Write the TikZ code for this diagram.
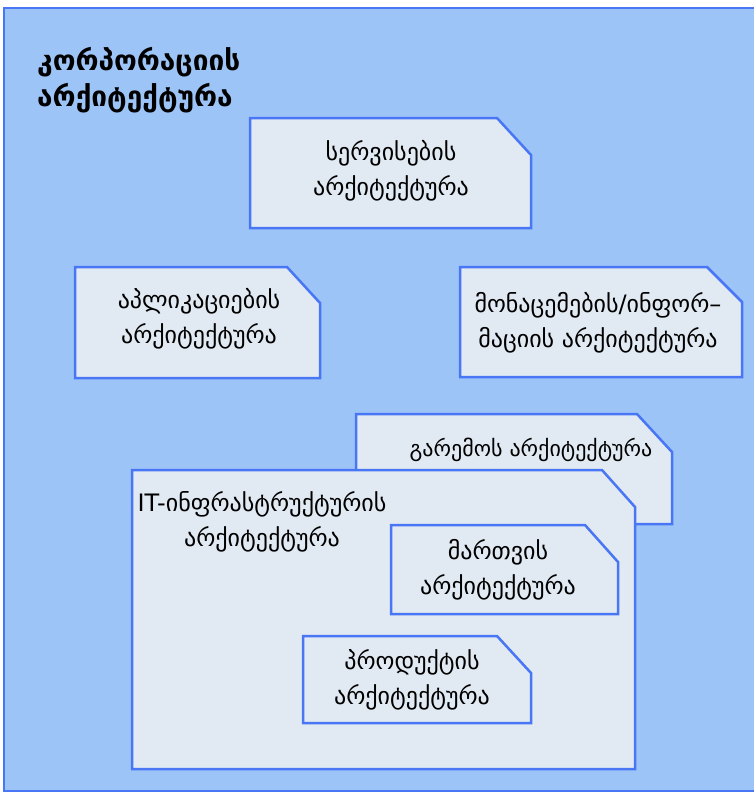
\documentclass[tikz,border=0pt]{standalone}
\usepackage{fontspec}
\setmainfont{DejaVu Sans}

\definecolor{outerblue}{RGB}{157,196,247}
\definecolor{boxfill}{RGB}{225,233,242}
\definecolor{edgeblue}{RGB}{72,118,245}

\tikzset{
    archbox/.style={draw=edgeblue, line width=2.5pt, fill=boxfill, line join=miter},
    archtext/.style={inner sep=0pt, align=center, font=\fontsize{24}{35}\selectfont}
}

\begin{document}
\begin{tikzpicture}[x=1pt, y=-1pt]

    \clip (0,0) rectangle (754,795);

    % Outer frame
    \draw[edgeblue, line width=2.5pt, fill=outerblue] (4,8) rectangle (760,791);
    \node[anchor=west, align=left, inner sep=0pt,
        font=\bfseries\fontsize{28}{36}\selectfont] (corp) at (37,80)
        {კორპორაციის\\არქიტექტურა};

    % Services
    \filldraw[archbox] (250,228) -- (250,118) -- (497,118) -- (531,155) -- (531,228) -- cycle;
    \node[archtext] (serv) at (391,170.5) {სერვისების\\არქიტექტურა};

    % Applications
    \filldraw[archbox] (75,378) -- (75,267) -- (287,267) -- (320,303) -- (320,378) -- cycle;
    \node[archtext] (app) at (199,318.5) {აპლიკაციების\\არქიტექტურა};

    % Data / information
    \filldraw[archbox] (460,377) -- (460,267) -- (707,267) -- (742,302) -- (742,377) -- cycle;
    \node[archtext] (data) at (598,322.5) {მონაცემების/ინფორ–\\მაციის არქიტექტურა};

    % Environment (behind the IT box)
    \filldraw[archbox] (356,524) -- (356,414) -- (637,414) -- (672,452) -- (672,524) -- cycle;
    \node[archtext, font=\fontsize{22}{35}\selectfont] (env) at (531,450) {გარემოს არქიტექტურა};

    % IT infrastructure
    \filldraw[archbox] (132,769) -- (132,470) -- (602,470) -- (635,507) -- (635,769) -- cycle;
    \node[archtext] (itinf) at (262,521.5) {IT-ინფრასტრუქტურის\\არქიტექტურა};

    % Management
    \filldraw[archbox] (391,614) -- (391,525) -- (585,525) -- (618,562) -- (618,614) -- cycle;
    \node[archtext] (mgmt) at (498,569.5) {მართვის\\არქიტექტურა};

    % Products
    \filldraw[archbox] (303,723) -- (303,636) -- (497,636) -- (531,673) -- (531,723) -- cycle;
    \node[archtext] (prod) at (412,680) {პროდუქტის\\არქიტექტურა};

\end{tikzpicture}
\end{document}
